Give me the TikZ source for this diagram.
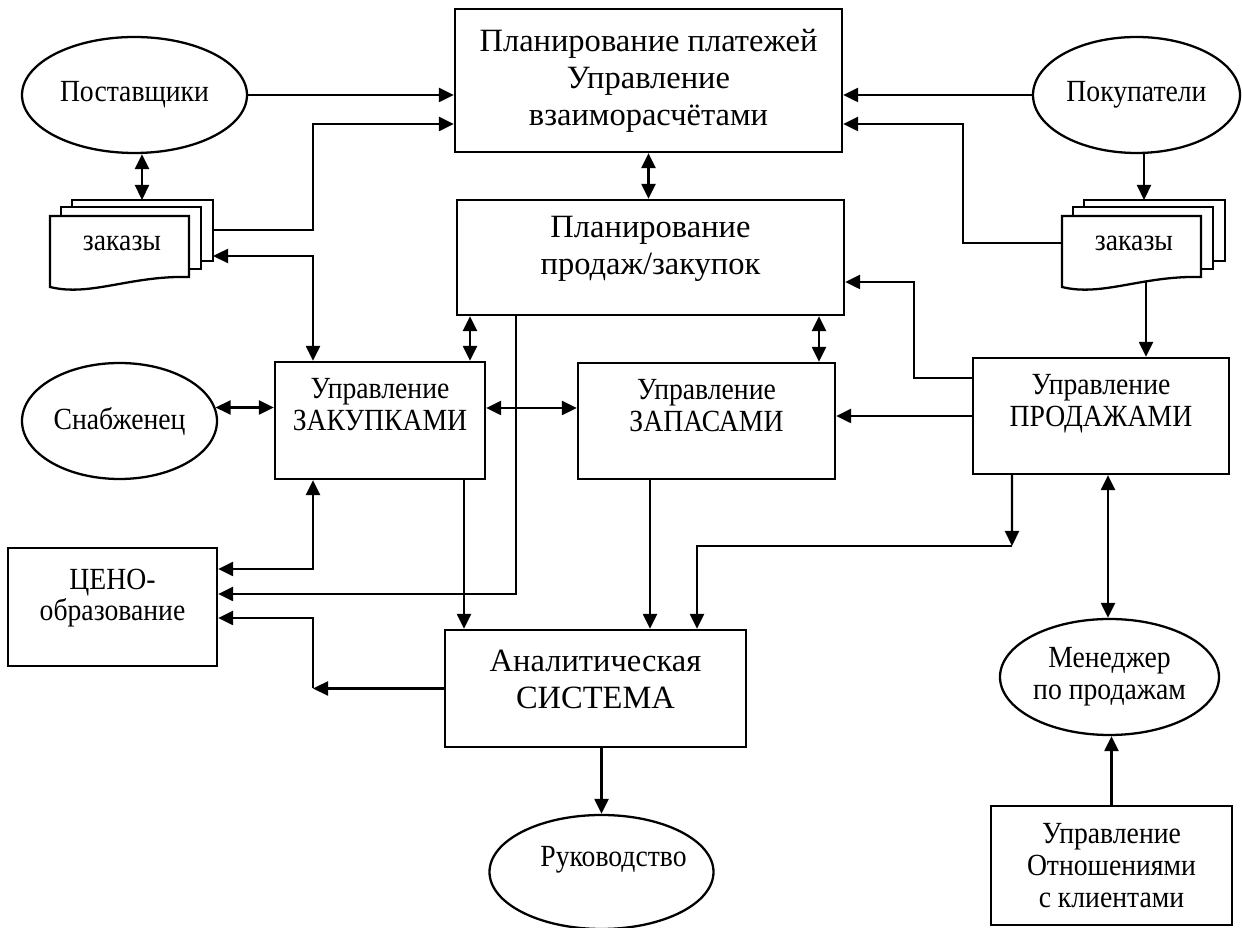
\documentclass[tikz,border=0pt]{standalone}
\usepackage{fontspec}
\setmainfont{Liberation Serif}
\newfontfamily\narrowfont{Liberation Serif}[FakeStretch=0.9]
\usepackage{tikz}
\usetikzlibrary{shapes.geometric, positioning, arrows.meta, calc}

\begin{document}
\begin{tikzpicture}[line width=1.3pt,
    every node/.style={font=\narrowfont\fontsize{17.5}{18}\selectfont, align=center},
    bigtext/.style={font=\fontsize{18.5}{21}\selectfont},
    box/.style={draw, rectangle, inner sep=0},
    oval/.style={draw, ellipse, inner sep=0},
    arr/.style={-{Triangle[length=0.3cm, width=0.28cm]}},
    dbl/.style={{Triangle[length=0.3cm, width=0.28cm]}-{Triangle[length=0.3cm, width=0.28cm]}}]

    \useasboundingbox (0,0) rectangle (24.84,18.56);

    % Payments and planning
    \node[box, bigtext, minimum width=7.74cm, minimum height=2.86cm] (plat) at (12.97,16.95) {Планирование платежей\\Управление\\взаиморасчётами};
    \node[box, bigtext, minimum width=7.74cm, minimum height=2.30cm] (plan) at (13.01,13.41) {Планирование\\продаж/закупок\\[-6.8pt]\mbox{}};

    % Suppliers and customers
    \node[oval, minimum width=4.50cm, minimum height=2.32cm] (post) at (2.69,16.66) {Поставщики};
    \node[oval, minimum width=4.14cm, minimum height=2.32cm] (pok) at (22.73,16.66) {Покупатели};

    % Orders - suppliers side
    \draw[fill=white] (1.44,13.34) rectangle (4.26,14.56);
    \draw[fill=white] (1.22,13.18) rectangle (4.02,14.42);
    \draw[fill=white] (1.00,12.82) -- (1.00,14.24) -- (3.78,14.24) -- (3.78,13.02) .. controls (2.6,13.05) and (1.8,12.62) .. cycle;
    \node (ordL) at (2.44,13.70) {заказы};
    \coordinate (ordLtop) at (2.84,14.56);
    \coordinate (ordLout) at (4.26,13.96);
    \coordinate (ordLin) at (4.26,13.44);

    % Orders - customers side
    \begin{scope}[xshift=20.24cm]
        \draw[fill=white] (1.44,13.34) rectangle (4.26,14.56);
        \draw[fill=white] (1.22,13.18) rectangle (4.02,14.42);
        \draw[fill=white] (1.00,12.82) -- (1.00,14.24) -- (3.78,14.24) -- (3.78,13.02) .. controls (2.6,13.05) and (1.8,12.62) .. cycle;
    \end{scope}
    \node (ordR) at (22.68,13.70) {заказы};
    \coordinate (ordRtop) at (22.88,14.56);
    \coordinate (ordRout) at (21.24,13.70);
    \coordinate (ordRbot) at (22.92,12.93);

    % Management boxes
    \node[box, minimum width=4.20cm, minimum height=2.34cm] (zak) at (7.60,10.15) {Управление\\ЗАКУПКАМИ\\\mbox{}};
    \node[box, minimum width=5.14cm, minimum height=2.32cm] (zap) at (14.13,10.14) {Управление\\ЗАПАСАМИ\\\mbox{}};
    \node[box, minimum width=5.12cm, minimum height=2.32cm] (prod) at (22.02,10.24) {Управление\\ПРОДАЖАМИ\\\mbox{}};
    \node[oval, minimum width=3.90cm, minimum height=2.32cm] (snab) at (2.39,10.14) {Снабженец};
    \node[box, minimum width=4.18cm, minimum height=2.36cm] (ceno) at (2.25,6.42) {ЦЕНО-\\образование\\[-4pt]\mbox{}};

    % Analytics
    \node[box, bigtext, minimum width=6.02cm, minimum height=2.34cm] (analyt) at (11.91,4.79) {Аналитическая\\СИСТЕМА\\[-11pt]\mbox{}};
    \node[oval, minimum width=4.48cm, minimum height=2.28cm] (ruk) at (12.03,1.12) {\kern0.24cm Руководство\kern-0.24cm\\\mbox{}};

    % Sales manager
    \node[oval, minimum width=4.38cm, minimum height=2.32cm] (men) at (22.19,5.02) {Менеджер\\по продажам};
    \node[box, minimum width=4.82cm, minimum height=2.38cm] (otn) at (22.23,1.25) {Управление\\Отношениями\\с клиентами};
    \coordinate (cenoIn) at ([xshift=-1.34cm]zak.south |- analyt.west);
    \coordinate (prodOut) at (20.24,7.64);

    % Connections to payments
    \draw[arr] (post.east) -- (post.east -| plat.west);
    \draw[arr] (ordLout) -- ++(2.0,0) |- ([yshift=-0.87cm]plat.west);
    \draw[dbl] (post.south -| ordLtop) -- (ordLtop);
    \draw[arr] (pok.west) -- (pok.west -| plat.east);
    \draw[arr] (ordRout) -- ++(-1.98,0) |- ([yshift=-0.87cm]plat.east);
    \draw[arr] (pok.south -| ordRtop) -- (ordRtop);
    \draw[dbl] (plat.south) -- (plat.south |- plan.north);

    % Connections around planning
    \draw[dbl] (ordLin) -| ([xshift=-1.34cm]zak.north);
    \draw[dbl] ([xshift=1.80cm]zak.north) -- ([xshift=1.80cm]zak.north |- plan.south);
    \draw[dbl] ([xshift=2.25cm]zap.north) -- ([xshift=2.25cm]zap.north |- plan.south);
    \draw[arr] ([yshift=0.76cm]prod.west) -- ++(-1.16,0) |- ([yshift=-0.49cm]plan.east);
    \draw[arr] ([xshift=-2.69cm]plan.south) |- ([yshift=0.26cm]ceno.east);
    \draw[arr] (ordRbot) -- (ordRbot |- prod.north);

    % Management connections
    \draw[dbl] (snab.8) -- (snab.8 -| zak.west);
    \draw[dbl] ([yshift=0.25cm]zak.east) -- ([yshift=0.25cm]zak.east -| zap.west);
    \draw[arr] (prod.west) -- (prod.west -| zap.east);
    \draw[dbl] ([yshift=0.76cm]ceno.east) -| ([xshift=-1.34cm]zak.south);

    % Connections to analytics
    \draw[arr] ([xshift=1.68cm]zak.south) -- ([xshift=1.68cm]zak.south |- analyt.north);
    \draw[arr] ([xshift=-1.13cm]zap.south) -- ([xshift=-1.13cm]zap.south |- analyt.north);
    \draw[arr] ([xshift=-1.78cm]prod.south) -- (prodOut);
    \draw[arr] (prodOut) -| ([xshift=2.03cm]analyt.north);
    \draw[arr] (analyt.west) -- (cenoIn);
    \draw[arr] (cenoIn) |- ([yshift=-0.22cm]ceno.east);
    \draw[arr] (ruk.north |- analyt.south) -- (ruk.north);

    % Sales manager connections
    \draw[dbl] ([xshift=0.14cm]prod.south) -- ([xshift=0.14cm]prod.south |- men.north);
    \draw[arr] (otn.north) -- (otn.north |- men.south);
\end{tikzpicture}
\end{document}
